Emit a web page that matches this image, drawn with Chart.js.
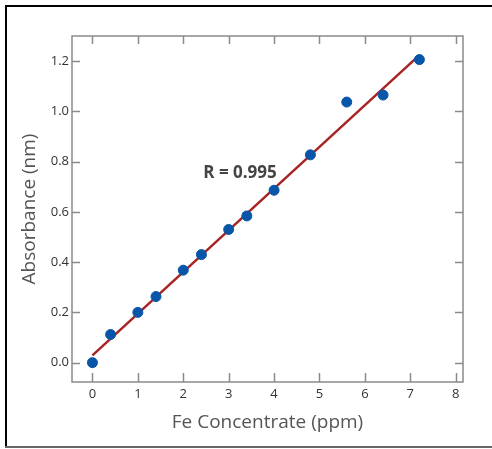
<!DOCTYPE html>
<html>
<head>
<meta charset="utf-8">
<script src="https://cdn.jsdelivr.net/npm/chart.js@4"></script>
<style>
  html, body { margin: 0; padding: 0; background: #fff; }
  #wrap { width: 492px; height: 449px; }
</style>
</head>
<body>
<div id="wrap"><canvas id="chart" width="492" height="449"></canvas></div>
<script>
// data
const concentration = [0, 0.4, 1, 1.4, 2, 2.4, 3, 3.4, 4, 4.8, 5.6, 6.4, 7.2];
const absorbance = [0, 0.112, 0.2, 0.263, 0.368, 0.43, 0.53, 0.584, 0.686, 0.827, 1.037, 1.065, 1.206];
const fitX = [0, 7.2];
const fitY = [0.029, 1.224];
const xTicks = [0, 1, 2, 3, 4, 5, 6, 7, 8];
const yTicks = [0, 0.2, 0.4, 0.6, 0.8, 1.0, 1.2];
const rLabel = "R = 0.995";

const font = "'Open Sans', 'Noto Sans', sans-serif";

// frame, inward ticks, outer border and the R label
const framePlugin = {
  id: "frame",
  afterDraw(chart) {
    const ctx = chart.ctx;
    const a = chart.chartArea;
    const xs = chart.scales.x;
    const ys = chart.scales.y;
    ctx.save();
    ctx.strokeStyle = "#8a8a8a";
    ctx.lineWidth = 1.5;
    ctx.strokeRect(a.left, a.top, a.right - a.left, a.bottom - a.top);
    ctx.beginPath();
    xTicks.forEach(v => {
      const px = Math.round(xs.getPixelForValue(v)) + 0.5;
      ctx.moveTo(px, a.bottom); ctx.lineTo(px, a.bottom - 9);
      ctx.moveTo(px, a.top); ctx.lineTo(px, a.top + 8);
    });
    yTicks.forEach(v => {
      const py = Math.round(ys.getPixelForValue(v)) + 0.5;
      ctx.moveTo(a.left, py); ctx.lineTo(a.left + 8, py);
      ctx.moveTo(a.right, py); ctx.lineTo(a.right - 8, py);
    });
    ctx.stroke();

    ctx.fillStyle = "#444";
    ctx.font = "bold 17px " + font;
    ctx.textAlign = "center";
    ctx.textBaseline = "middle";
    ctx.fillText(rLabel, xs.getPixelForValue(3.25), ys.getPixelForValue(0.755));

    ctx.fillStyle = "#000";
    ctx.fillRect(5, 5, 487, 2);
    ctx.fillRect(5, 5, 2, 443);
    ctx.fillStyle = "#666";
    ctx.fillRect(5, 446, 487, 2);
    ctx.restore();
  }
};

new Chart(document.getElementById("chart"), {
  type: "scatter",
  data: {
    datasets: [
      {
        label: "Fit",
        data: fitX.map((x, i) => ({ x: x, y: fitY[i] })),
        showLine: true,
        borderColor: "#a82424",
        borderWidth: 2.5,
        pointRadius: 0,
        order: 2
      },
      {
        label: "Absorbance",
        data: concentration.map((x, i) => ({ x: x, y: absorbance[i] })),
        backgroundColor: "#0856a8",
        borderColor: "#0856a8",
        pointRadius: 5,
        order: 1
      }
    ]
  },
  options: {
    responsive: false,
    animation: false,
    layout: { padding: { left: 0, top: 36, right: 29, bottom: 0 } },
    plugins: { legend: { display: false }, tooltip: { enabled: false } },
    scales: {
      x: {
        min: -0.45,
        max: 8.16,
        afterBuildTicks: s => { s.ticks = xTicks.map(v => ({ value: v })); },
        afterFit: s => { s.height = 67; },
        grid: { display: false, drawTicks: false },
        border: { display: false },
        ticks: { color: "#333", font: { family: font, size: 13 }, padding: 4 },
        title: {
          display: true,
          text: "Fe Concentrate (ppm)",
          color: "#555",
          font: { family: font, size: 19 },
          padding: { top: 0, bottom: 15 }
        }
      },
      y: {
        min: -0.077,
        max: 1.3,
        afterBuildTicks: s => { s.ticks = yTicks.map(v => ({ value: v })); },
        afterFit: s => { s.width = 72; },
        grid: { display: false, drawTicks: false },
        border: { display: false },
        ticks: {
          color: "#333",
          font: { family: font, size: 13 },
          padding: 3,
          callback: v => Number(v).toFixed(1)
        },
        title: {
          display: true,
          text: "Absorbance (nm)",
          color: "#555",
          font: { family: font, size: 19 },
          padding: { top: 18, bottom: 0 }
        }
      }
    }
  },
  plugins: [framePlugin]
});
</script>
</body>
</html>
